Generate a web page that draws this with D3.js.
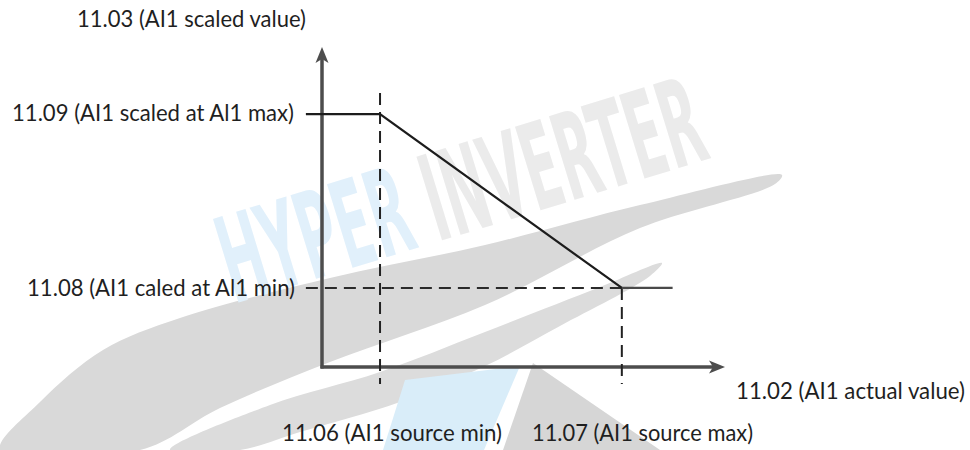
<!DOCTYPE html>
<html>
<head>
<meta charset="utf-8">
<script src="https://cdn.jsdelivr.net/npm/d3@7"></script>
<style>
  html, body { margin: 0; padding: 0; background: #ffffff; }
  svg { display: block; }
  .lbl { font-family: Lato, "Open Sans", "DejaVu Sans", sans-serif; font-size: 22.5px; fill: #1f1f1f; }
</style>
</head>
<body>
<svg id="chart" width="970" height="450"></svg>
<script>
// ---------- data ----------
// characteristic curve (x: source value, y: scaled value), in abstract units 0..100
const curveX = [-4, 14.4, 74.4, 87];
const curveY = [79, 79, 24.7, 24.7];
// reference levels
const sourceLevels = [14.4, 74.4];          // 11.06, 11.07
const scaledLevels = [79, 24.7];            // 11.09, 11.08
// label texts
const axisTitleY = "11.03 (AI1 scaled value)";
const axisTitleX = "11.02 (AI1 actual value)";
const levelLabelsY = ["11.09 (AI1 scaled at Al1 max)", "11.08 (AI1 caled at Al1 min)"];
const levelLabelsX = ["11.06 (AI1 source min)", "11.07 (AI1 source max)"];
const watermarkWords = ["HYPER", " INVERTER"];

// ---------- scales ----------
const x = d3.scaleLinear().domain([0, 100]).range([322, 725]);
const y = d3.scaleLinear().domain([0, 100]).range([367, 47]);

const svg = d3.select("#chart");

// ---------- watermark (background) ----------
const wm = svg.append("g");
const area = d3.line().curve(d3.curveCatmullRomClosed.alpha(0.5));
// upper brush band
wm.append("path")
  .attr("d", area([[0,450],[40,402],[103,350],[180,318],[330,278],[485,245],[640,205],[782,175],
                   [775,184],[640,228],[485,305],[330,362],[220,408],[140,450]]))
  .attr("fill", "#d9d9d9");
// lower brush band
wm.append("path")
  .attr("d", area([[170,450],[270,405],[380,372],[485,332],[600,287],[662,263],
                   [650,276],[560,326],[485,366],[400,402],[300,432],[240,450]]))
  .attr("fill", "#dcdcdc");
// light blue swath and gray wedge below the x axis
wm.append("path")
  .attr("d", d3.line()([[405,380],[520,366],[484,450],[383,450]]) + "Z")
  .attr("fill", "#d9edf9");
wm.append("path")
  .attr("d", d3.line()([[533,363],[660,450],[503,450]]) + "Z")
  .attr("fill", "#d6d6d6");
// watermark words
const wmText = wm.append("text")
  .attr("transform", "translate(234,304) rotate(-17)")
  .attr("font-family", "'DejaVu Sans', sans-serif")
  .attr("font-weight", "bold")
  .attr("font-size", 120)
  .attr("textLength", 500)
  .attr("lengthAdjust", "spacingAndGlyphs");
wmText.append("tspan").text(watermarkWords[0]).attr("fill", "#e1f0fb");
wmText.append("tspan").text(watermarkWords[1]).attr("fill", "#ebebeb");

// ---------- axes ----------
const axisColor = "#4d4d4d";
svg.append("line")
  .attr("x1", x(0)).attr("y1", y(0) + 1.5)
  .attr("x2", x(0)).attr("y2", y(100) + 12)
  .attr("stroke", axisColor).attr("stroke-width", 3.5);
svg.append("line")
  .attr("x1", x(0) - 1.5).attr("y1", y(0))
  .attr("x2", x(100) - 12).attr("y2", y(0))
  .attr("stroke", axisColor).attr("stroke-width", 3.5);
// arrowheads
svg.append("path")
  .attr("d", d3.line()([[x(0), y(100)], [x(0) + 6.5, y(100) + 16], [x(0), y(100) + 12], [x(0) - 6.5, y(100) + 16]]) + "Z")
  .attr("fill", axisColor);
svg.append("path")
  .attr("d", d3.line()([[x(100), y(0)], [x(100) - 16, y(0) - 6.5], [x(100) - 12, y(0)], [x(100) - 16, y(0) + 6.5]]) + "Z")
  .attr("fill", axisColor);

// ---------- dashed guides ----------
const dash = "12,7";
svg.append("line")
  .attr("x1", x(sourceLevels[0])).attr("y1", y(85.6))
  .attr("x2", x(sourceLevels[0])).attr("y2", y(-5.3))
  .attr("stroke", "#222").attr("stroke-width", 2).attr("stroke-dasharray", dash);
svg.append("line")
  .attr("x1", x(sourceLevels[1])).attr("y1", y(scaledLevels[1]))
  .attr("x2", x(sourceLevels[1])).attr("y2", y(-5.3))
  .attr("stroke", "#222").attr("stroke-width", 2).attr("stroke-dasharray", dash);
svg.append("line")
  .attr("x1", x(curveX[0])).attr("y1", y(scaledLevels[1]))
  .attr("x2", x(sourceLevels[1])).attr("y2", y(scaledLevels[1]))
  .attr("stroke", "#2a2a2a").attr("stroke-width", 2).attr("stroke-dasharray", dash);

// ---------- curve ----------
const pts = curveX.map((v, i) => [x(v), y(curveY[i])]);
svg.append("path")
  .attr("d", d3.line()(pts.slice(0, 3)))
  .attr("fill", "none").attr("stroke", "#1c1c1c").attr("stroke-width", 2.2)
  .attr("stroke-linejoin", "miter");
svg.append("path")
  .attr("d", d3.line()(pts.slice(2)))
  .attr("fill", "none").attr("stroke", "#4a4a4a").attr("stroke-width", 2.2);

// ---------- labels ----------
function label(txt, px, py, len) {
  svg.append("text").attr("class", "lbl")
    .attr("x", px).attr("y", py)
    .attr("textLength", len).attr("lengthAdjust", "spacingAndGlyphs")
    .text(txt);
}
label(axisTitleY, 77, 27, 229);
label(levelLabelsY[0], 12, 121, 282);
label(levelLabelsY[1], 27, 296, 268);
label(levelLabelsX[0], 282, 441, 220);
label(levelLabelsX[1], 532, 441, 221);
label(axisTitleX, 736, 399, 229);
</script>
</body>
</html>
